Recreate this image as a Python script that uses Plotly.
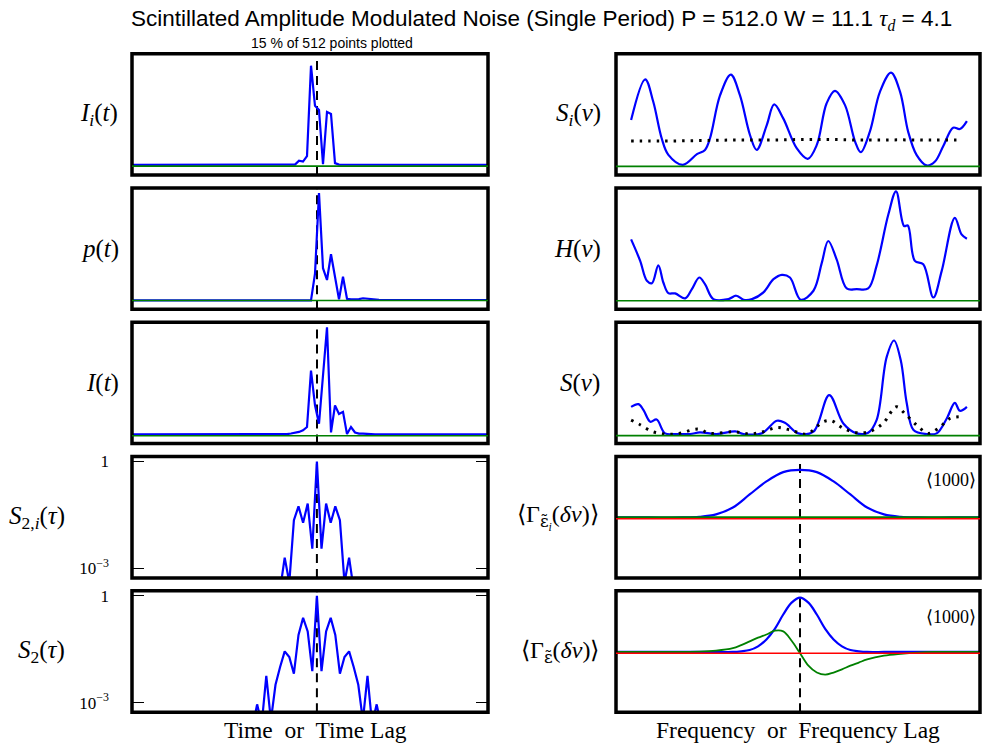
import numpy as np
import plotly.graph_objects as go

W, H = 983, 744

# ---------------- left column: time / time-lag panels ----------------
# pulse samples (time in samples, centred on the dashed line)
t_time = np.arange(-46.5, 43.0, 1.0)

Ii_floor = 0.012
Ii_start = -6.5
Ii_vals = [0.012, 0.015, 0.055, 0.045, 0.10, 1.0, 0.60, 0.56, 0.02, 0.54, 0.52,
           0.03, 0.015, 0.015, 0.015]

p_floor_before = 0.0
p_floor_after = 0.004
p_start = -1.5
p_vals = [0.0, 0.25, 1.0, 0.30, 0.19, 0.43, 0.22, 0.01, 0.22, 0.015, 0.01, 0.01,
          0.012, 0.02, 0.015, 0.01, 0.01, 0.005]

I_floor = 0.012
I_start = -8.5
I_vals = [0.012, 0.015, 0.02, 0.025, 0.035, 0.05, 0.08, 0.60, 0.28, 0.11, 0.55,
          1.0, 0.03, 0.28, 0.20, 0.22, 0.015, 0.08, 0.03, 0.02, 0.02, 0.015,
          0.015, 0.012]

# autocorrelations (one-sided, lag 0 upward), log10 of normalised values
lags = np.arange(-40, 41)
S2i_log_half = [0.0, -2.45, -1.18, -1.72, -1.26, -1.65, -3.4, -2.7, -3.6]
S2_log_half = [0.0, -2.12, -1.0, -0.62, -1.1, -2.19, -1.72, -1.56, -2.0, -2.5,
               -3.5, -2.25, -3.6, -3.05, -3.7]
S2_log_floor = -6.0

# ---------------- right column: frequency panels ----------------
Si_nu = [0.0, 0.042, 0.066, 0.091, 0.111, 0.154, 0.196, 0.22, 0.235, 0.265, 0.297,
         0.324, 0.354, 0.374, 0.404, 0.426, 0.453, 0.493, 0.526, 0.553, 0.582,
         0.607, 0.637, 0.667, 0.684, 0.711, 0.741, 0.774, 0.801, 0.825, 0.85,
         0.88, 0.905, 0.929, 0.959, 0.979, 1.0]
Si_vals = [0.466, 0.876, 0.65, 0.283, 0.116, 0.016, 0.123, 0.166, 0.283, 0.716,
           0.923, 0.716, 0.316, 0.166, 0.416, 0.623, 0.483, 0.183, 0.076, 0.216,
           0.633, 0.76, 0.616, 0.25, 0.143, 0.35, 0.75, 0.943, 0.75, 0.35, 0.116,
           0.01, 0.05, 0.2, 0.39, 0.376, 0.456]
Si_mean_nu = [0.0, 0.1, 0.2, 0.3, 0.4, 0.5, 0.6, 0.7, 0.8, 0.9, 0.985]
Si_mean_vals = [0.255, 0.255, 0.26, 0.265, 0.265, 0.27, 0.27, 0.265, 0.267, 0.265, 0.265]

H_nu = [0.0, 0.027, 0.047, 0.062, 0.081, 0.096, 0.111, 0.131, 0.161, 0.181, 0.203,
        0.22, 0.245, 0.29, 0.313, 0.335, 0.36, 0.394, 0.424, 0.449, 0.473, 0.505,
        0.543, 0.568, 0.587, 0.612, 0.642, 0.672, 0.706, 0.731, 0.766, 0.789,
        0.813, 0.824, 0.845, 0.87, 0.9, 0.925, 0.964, 0.984, 1.0]
H_vals = [0.616, 0.4, 0.2, 0.176, 0.356, 0.183, 0.076, 0.073, 0.023, 0.116, 0.233,
          0.166, 0.016, 0.016, 0.05, 0.01, 0.016, 0.083, 0.216, 0.26, 0.233, 0.01,
          0.1, 0.383, 0.6, 0.416, 0.123, 0.116, 0.123, 0.35, 0.866, 1.1, 0.75,
          0.756, 0.4, 0.366, 0.033, 0.3, 0.833, 0.666, 0.623]

S_nu = [0.0, 0.022, 0.037, 0.057, 0.076, 0.101, 0.136, 0.176, 0.205, 0.255, 0.31,
        0.335, 0.389, 0.434, 0.458, 0.498, 0.543, 0.59, 0.632, 0.672, 0.706,
        0.731, 0.761, 0.783, 0.803, 0.821, 0.841, 0.88, 0.91, 0.94, 0.964, 0.979,
        1.0]
S_vals = [0.29, 0.317, 0.257, 0.14, 0.163, 0.023, 0.017, 0.017, 0.033, 0.017,
          0.043, 0.017, 0.023, 0.15, 0.13, 0.023, 0.04, 0.407, 0.123, 0.023, 0.03,
          0.157, 0.79, 0.957, 0.757, 0.323, 0.057, 0.017, 0.023, 0.173, 0.33,
          0.25, 0.29]
S_mean_nu = [0.0, 0.027, 0.062, 0.097, 0.136, 0.2, 0.235, 0.305, 0.355, 0.394,
             0.434, 0.474, 0.523, 0.572, 0.597, 0.632, 0.672, 0.71, 0.75, 0.79,
             0.815, 0.85, 0.885, 0.915, 0.95, 0.985]
S_mean_vals = [0.157, 0.11, 0.043, 0.017, 0.017, 0.066, 0.023, 0.04, 0.017, 0.04,
               0.083, 0.057, 0.017, 0.14, 0.15, 0.073, 0.03, 0.04, 0.123, 0.29,
               0.223, 0.107, 0.023, 0.073, 0.173, 0.19]

# averaged frequency-lag correlations
dnu_i = [-0.55, -0.45, -0.35, -0.30, -0.25, -0.20, -0.15, -0.10, -0.05, 0.0,
         0.05, 0.10, 0.15, 0.20, 0.25, 0.30, 0.35, 0.45, 0.55]
Gi_real = [0.02, 0.02, 0.02, 0.03, 0.07, 0.18, 0.39, 0.60, 0.75, 0.787,
           0.75, 0.60, 0.39, 0.18, 0.07, 0.03, 0.02, 0.02, 0.02]
Gi_imag = [0.025] * len(dnu_i)

dnu = [-0.55, -0.40, -0.30, -0.25, -0.20, -0.175, -0.15, -0.125, -0.10, -0.075,
       -0.05, -0.025, 0.0, 0.025, 0.05, 0.075, 0.10, 0.125, 0.15, 0.175, 0.20,
       0.25, 0.30, 0.35, 0.40, 0.55]
G_real = [0.02, 0.02, 0.02, 0.02, 0.02, 0.03, 0.05, 0.11, 0.22, 0.39, 0.62, 0.81,
          0.89, 0.81, 0.62, 0.39, 0.22, 0.11, 0.05, 0.03, 0.02, 0.02, 0.02, 0.02,
          0.02, 0.02]
G_imag = [0.02, 0.02, 0.025, 0.04, 0.08, 0.13, 0.19, 0.25, 0.30, 0.36, 0.35, 0.20,
          0.0, -0.20, -0.31, -0.345, -0.31, -0.26, -0.20, -0.15, -0.10, -0.04,
          -0.01, 0.01, 0.02, 0.02]
n_avg = 1000

# ---------------- assemble series ----------------
def place(floor_before, floor_after, start, vals):
    out = np.where(t_time < start, floor_before, floor_after).astype(float)
    i0 = int(np.argmin(np.abs(t_time - start)))
    out[i0:i0 + len(vals)] = vals
    return out

Ii_series = place(Ii_floor, Ii_floor, Ii_start, Ii_vals)
p_series = place(p_floor_before, p_floor_after, p_start, p_vals)
I_series = place(I_floor, I_floor, I_start, I_vals)

def mirror(half):
    half = list(half) + [S2_log_floor] * (41 - len(half))
    full = half[:0:-1] + half
    return 10.0 ** np.array(full)

S2i_series = mirror(S2i_log_half)
S2_series = mirror(S2_log_half)

# ---------------- layout geometry (pixels) ----------------
col_x = {0: (132, 488), 1: (616, 980)}
row_y = [(50, 172), (185, 307), (320, 442), (455, 577), (590, 712)]

BLUE = "#0000ff"
GREEN = "#008000"
RED = "#ff0000"
SERIF = "Liberation Serif, Times New Roman, serif"
SANS = "Liberation Sans, Arial, sans-serif"
EPS_TILDE = '<span style="font-family:DejaVu Serif">\u03b5\u0303</span>'

fig = go.Figure()
layout = dict(width=W, height=H, margin=dict(l=0, r=0, t=0, b=0),
              paper_bgcolor="white", plot_bgcolor="white", showlegend=False)
shapes = []
annotations = []

def axis_id(col, row):
    return col * 5 + row + 1

def ref(letter, n):
    return letter if n == 1 else f"{letter}{n}"

def setup_axes(col, row, xrange, yrange, ylog=False):
    n = axis_id(col, row)
    x0, x1 = col_x[col]
    y0, y1 = row_y[row]
    xa = dict(domain=[x0 / W, x1 / W], range=xrange, showgrid=False,
              zeroline=False, showticklabels=False, ticks="",
              anchor=ref("y", n), fixedrange=True)
    ya = dict(domain=[1 - y1 / H, 1 - y0 / H], range=yrange, showgrid=False,
              zeroline=False, showticklabels=False, ticks="",
              anchor=ref("x", n), fixedrange=True)
    if ylog:
        ya.update(type="log", showticklabels=True, tickvals=[1e-3, 1],
                  ticktext=["10<sup>\u22123</sup>", "1"], ticks="inside",
                  ticklen=12, tickwidth=1, tickcolor="black", mirror="ticks",
                  tickfont=dict(family=SERIF, size=17, color="black"),
                  ticklabelstandoff=22)
    key = "" if n == 1 else str(n)
    layout[f"xaxis{key}"] = xa
    layout[f"yaxis{key}"] = ya
    # heavy frame
    shapes.append(dict(type="rect", xref=f"{ref('x', n)} domain",
                       yref=f"{ref('y', n)} domain",
                       x0=0, x1=1, y0=0, y1=1, layer="above",
                       line=dict(color="black", width=3.5)))
    return n

def add_line(n, x, y, color=BLUE, width=2.2, dash=None, shape="linear"):
    fig.add_trace(go.Scatter(x=x, y=y, mode="lines", xaxis=ref("x", n),
                             yaxis=ref("y", n),
                             line=dict(color=color, width=width, dash=dash,
                                       shape=shape, smoothing=1.0),
                             hoverinfo="skip"))

def hline(n, color, width=1.6):
    shapes.append(dict(type="line", xref=f"{ref('x', n)} domain", yref=ref("y", n),
                       x0=0, x1=1, y0=0, y1=0, layer="above",
                       line=dict(color=color, width=width)))

def vdash(n):
    shapes.append(dict(type="line", xref=ref("x", n), yref=f"{ref('y', n)} domain",
                       x0=0, x1=0, y0=0, y1=1, layer="below",
                       line=dict(color="black", width=2, dash="9px,6px")))

def ylabel(col, row, text, xpix, size=25):
    y0, y1 = row_y[row]
    annotations.append(dict(text=text, xref="paper", yref="paper",
                            x=xpix / W, y=1 - (y0 + y1) / 2 / H,
                            xanchor="right", yanchor="middle", showarrow=False,
                            font=dict(family=SERIF, size=size, color="black")))

time_range = [-46.25, 42.75]
lag_range = [-40.2, 37.2]
nu_range = [-0.045, 1.039]
dnu_range = [-0.548, 0.536]

# left column
n = setup_axes(0, 0, time_range, [-0.089, 1.119])
vdash(n); add_line(n, t_time, Ii_series); hline(n, GREEN)
n = setup_axes(0, 1, time_range, [-0.083, 1.046])
vdash(n); add_line(n, t_time, p_series); hline(n, GREEN)
n = setup_axes(0, 2, time_range, [-0.073, 1.046])
vdash(n); add_line(n, t_time, I_series); hline(n, GREEN)
n = setup_axes(0, 3, lag_range, [-3.27, 0.14], ylog=True)
vdash(n); add_line(n, lags, S2i_series)
n = setup_axes(0, 4, lag_range, [-3.27, 0.14], ylog=True)
vdash(n); add_line(n, lags, S2_series)

ylabel(0, 0, "<i>I<sub>i</sub></i>(<i>t</i>)", 120)
ylabel(0, 1, "<i>p</i>(<i>t</i>)", 121)
ylabel(0, 2, "<i>I</i>(<i>t</i>)", 121)
ylabel(0, 3, "<i>S</i><sub>2,<i>i</i></sub>(<i>\u03c4</i>)", 67)
ylabel(0, 4, "<i>S</i><sub>2</sub>(<i>\u03c4</i>)", 67)

# right column
DOT = "2.5px,6px"
n = setup_axes(1, 0, nu_range, [-0.087, 1.133])
add_line(n, Si_nu, Si_vals, shape="spline")
add_line(n, Si_mean_nu, Si_mean_vals, color="black", width=3, dash=DOT, shape="spline")
hline(n, GREEN)
n = setup_axes(1, 1, nu_range, [-0.087, 1.133])
add_line(n, H_nu, H_vals, shape="spline")
hline(n, GREEN)
n = setup_axes(1, 2, nu_range, [-0.08, 1.14])
add_line(n, S_nu, S_vals, shape="spline")
add_line(n, S_mean_nu, S_mean_vals, color="black", width=3, dash=DOT, shape="spline")
hline(n, GREEN)
n = setup_axes(1, 3, dnu_range, [-0.952, 1.0])
vdash(n)
add_line(n, dnu_i, Gi_real, shape="spline")
add_line(n, dnu_i, Gi_imag, color=GREEN, width=1.8, shape="spline")
hline(n, RED)
n = setup_axes(1, 4, dnu_range, [-0.946, 1.0])
vdash(n)
add_line(n, dnu, G_real, shape="spline")
add_line(n, dnu, G_imag, color=GREEN, width=1.8, shape="spline")
hline(n, RED)

ylabel(1, 0, "<i>S<sub>i</sub></i>(<i>\u03bd</i>)", 603)
ylabel(1, 1, "<i>H</i>(<i>\u03bd</i>)", 603)
ylabel(1, 2, "<i>S</i>(<i>\u03bd</i>)", 602)
ylabel(1, 3, f"\u27e8\u0393<sub>{EPS_TILDE}<sub><i>i</i></sub></sub>(<i>\u03b4\u03bd</i>)\u27e9", 601, 24)
ylabel(1, 4, f"\u27e8\u0393<sub>{EPS_TILDE}</sub>(<i>\u03b4\u03bd</i>)\u27e9", 601, 24)

for row, ypix in ((3, 479), (4, 616)):
    annotations.append(dict(text=f"\u27e8{n_avg}\u27e9", xref="paper", yref="paper",
                            x=951 / W, y=1 - ypix / H, xanchor="center",
                            yanchor="middle", showarrow=False,
                            font=dict(family=SERIF, size=18, color="black")))

# titles and axis captions
title = ("Scintillated Amplitude Modulated Noise (Single Period) P = 512.0 W = 11.1 "
         f"<span style=\"font-family:{SERIF}\"><i>\u03c4<sub>d</sub></i></span> = 4.1")
annotations.append(dict(text=title, xref="paper", yref="paper", x=541 / W,
                        y=1 - 16 / H, xanchor="center", yanchor="middle",
                        showarrow=False, font=dict(family=SANS, size=22.5, color="black")))
annotations.append(dict(text="15 % of 512 points plotted", xref="paper", yref="paper",
                        x=332 / W, y=1 - 39 / H, xanchor="center", yanchor="middle",
                        showarrow=False, font=dict(family=SANS, size=14, color="black")))
annotations.append(dict(text="Time&nbsp; or&nbsp; Time Lag", xref="paper", yref="paper",
                        x=315 / W, y=1 - 730 / H, xanchor="center", yanchor="middle",
                        showarrow=False, font=dict(family=SERIF, size=23.5, color="black")))
annotations.append(dict(text="Frequency&nbsp; or&nbsp; Frequency Lag", xref="paper",
                        yref="paper", x=798 / W, y=1 - 730 / H, xanchor="center",
                        yanchor="middle", showarrow=False,
                        font=dict(family=SERIF, size=23.5, color="black")))

layout["shapes"] = shapes
layout["annotations"] = annotations
fig.update_layout(**layout)
fig.write_html("out.html")
